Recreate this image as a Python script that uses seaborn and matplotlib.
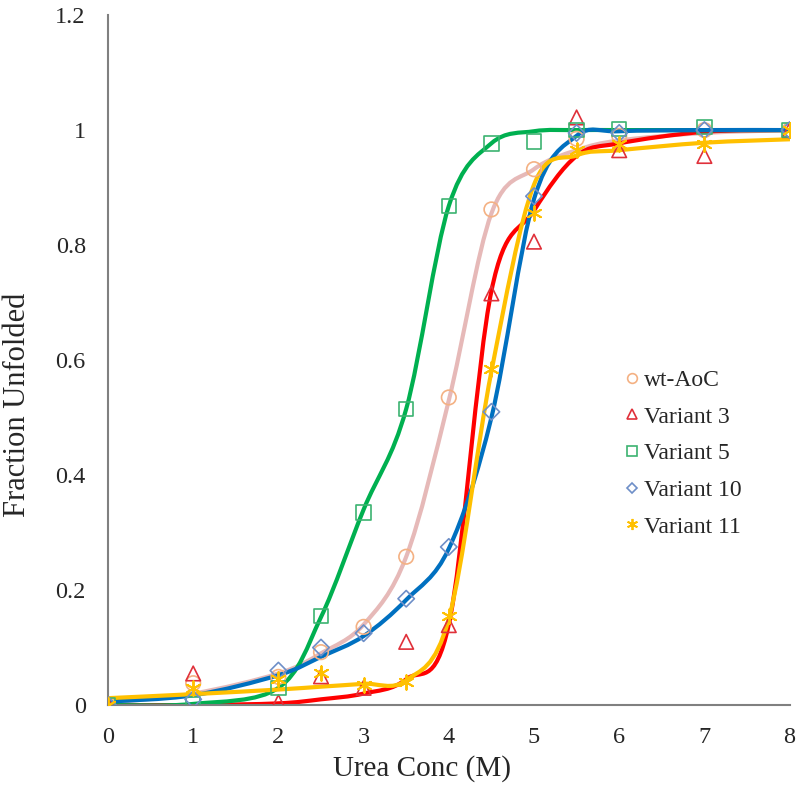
import numpy as np
import pandas as pd
import matplotlib
matplotlib.use("Agg")
import matplotlib.pyplot as plt
from matplotlib.path import Path
from matplotlib.patches import PathPatch
from matplotlib.lines import Line2D
import seaborn as sns

# urea concentrations (M)
urea = [0, 1, 2, 2.5, 3, 3.5, 4, 4.5, 5, 5.5, 6, 7, 8]

# measured fraction unfolded
wt_obs = [0.0, 0.038, 0.049, 0.092, 0.136, 0.258, 0.535, 0.862, 0.932, 0.985, 0.99, 1.0, 1.0]
v3_obs = [0.0, 0.055, 0.005, 0.05, 0.03, 0.11, 0.139, 0.716, 0.806, 1.022, 0.965, 0.955, 1.0]
v5_obs = [0.0, 0.002, 0.03, 0.155, 0.335, 0.515, 0.868, 0.977, 0.98, 1.0, 1.002, 1.005, 1.0]
v10_obs = [0.0, 0.01, 0.06, 0.1, 0.125, 0.185, 0.275, 0.51, 0.885, 0.995, 0.995, 1.0, 1.0]
v11_obs = [0.0, 0.03, 0.045, 0.055, 0.035, 0.04, 0.155, 0.585, 0.855, 0.965, 0.975, 0.975, 1.0]

# fitted curves (values at the same concentrations, drawn smoothed)
wt_fit = [0.004, 0.02, 0.055, 0.09, 0.14, 0.258, 0.53, 0.855, 0.932, 0.965, 0.982, 0.995, 1.0]
v3_fit = [0.0, 0.0, 0.003, 0.01, 0.02, 0.045, 0.14, 0.72, 0.86, 0.955, 0.977, 0.997, 1.0]
v5_fit = [0.0, 0.002, 0.03, 0.153, 0.34, 0.515, 0.868, 0.977, 0.998, 1.0, 1.0, 1.0, 1.0]
v10_fit = [0.006, 0.017, 0.052, 0.084, 0.12, 0.183, 0.272, 0.5, 0.88, 0.99, 0.998, 1.0, 1.0]
v11_fit = [0.012, 0.019, 0.027, 0.032, 0.037, 0.043, 0.15, 0.58, 0.905, 0.956, 0.965, 0.978, 0.984]

labels = ["wt-AoC", "Variant 3", "Variant 5", "Variant 10", "Variant 11"]
marker_colors = ["#F4B183", "#E0303A", "#3CB371", "#6E8FC8", "#FFC000"]
line_colors = ["#E6B9B8", "#FF0000", "#00B050", "#0070C0", "#FFC000"]
markers = ["o", "^", "s", "D", (6, 2, 0)]
sizes = [110, 110, 110, 70, 110]


def smooth_path(xs, ys):
    # excel style smoothed line: cubic bezier segments through the points
    pts = np.column_stack([xs, ys]).astype(float)
    n = len(pts)
    verts = [pts[0]]
    codes = [Path.MOVETO]
    for i in range(n - 1):
        p0 = pts[i - 1] if i > 0 else pts[i]
        p1 = pts[i]
        p2 = pts[i + 1]
        p3 = pts[i + 2] if i + 2 < n else pts[i + 1]
        c1 = p1 + (p2 - p0) / 6
        c2 = p2 - (p3 - p1) / 6
        verts += [c1, c2, p2]
        codes += [Path.CURVE4] * 3
    return Path(verts, codes)


sns.set_style("white")
plt.rcParams["font.family"] = ["Liberation Serif", "DejaVu Serif"]

fig, ax = plt.subplots(figsize=(8, 7.94), dpi=100)
fig.subplots_adjust(left=0.135, right=0.987, bottom=0.112, top=0.981)

fits = [wt_fit, v3_fit, v5_fit, v10_fit, v11_fit]
obs = [wt_obs, v3_obs, v5_obs, v10_obs, v11_obs]

for f, c in zip(fits, line_colors):
    ax.add_patch(PathPatch(smooth_path(urea, f), fill=False, edgecolor=c,
                           lw=3, capstyle="round", joinstyle="round", zorder=2))

for o, lab, c, m, s in zip(obs, labels, marker_colors, markers, sizes):
    df = pd.DataFrame({"urea": urea, "frac": o})
    if m == (6, 2, 0):
        sns.scatterplot(data=df, x="urea", y="frac", marker=m, s=s,
                        color=c, linewidth=1.4, ax=ax, zorder=3)
    else:
        sns.scatterplot(data=df, x="urea", y="frac", marker=m, s=s,
                        facecolors="none", edgecolor=c, linewidth=1.2,
                        ax=ax, zorder=3)

ax.set_xlim(0, 8)
ax.set_ylim(0, 1.2)
ax.set_xticks(range(0, 9))
ax.set_yticks([0, 0.2, 0.4, 0.6, 0.8, 1.0, 1.2])
ax.set_yticklabels(["0", "0.2", "0.4", "0.6", "0.8", "1", "1.2"])
ax.tick_params(axis="both", length=0, labelsize=17.5)
ax.tick_params(axis="y", pad=16)
ax.tick_params(axis="x", pad=16)
ax.set_xlabel("Urea Conc (M)", fontsize=21)
ax.set_ylabel("Fraction Unfolded", fontsize=22)
ax.xaxis.set_label_coords(0.461, -0.0725)
ax.yaxis.set_label_coords(-0.112, 0.435)
for side in ["top", "right"]:
    ax.spines[side].set_visible(False)
for side in ["left", "bottom"]:
    ax.spines[side].set_color("#808080")
    ax.spines[side].set_linewidth(1.5)

handles = []
for lab, c, m in zip(labels, marker_colors, markers):
    if m == (6, 2, 0):
        h = Line2D([], [], ls="none", marker=m, ms=8, color=c, mew=1.3)
    else:
        h = Line2D([], [], ls="none", marker=m, ms=7 if m != "D" else 5.5,
                   mfc="none", mec=c, mew=1.2)
    handles.append(h)
ax.legend(handles, labels, loc="center left", bbox_to_anchor=(0.743, 0.3645),
          frameon=False, fontsize=17, handletextpad=0.15, labelspacing=0.64,
          handlelength=0.7, borderaxespad=0)

fig.savefig("out.png", dpi=100)
